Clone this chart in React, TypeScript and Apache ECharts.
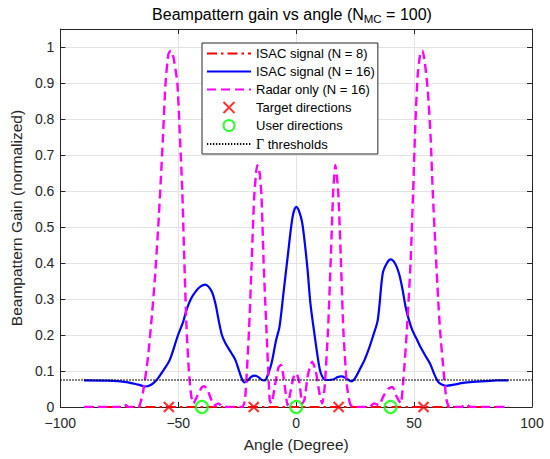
import React, { useEffect, useRef } from "react";
import * as echarts from "echarts";

// ---------- data ----------
const X_RANGE = [-100, 100];
const Y_RANGE = [0, 1.05];

// ISAC signal (N = 8): flat at zero across the scan
const ISAC8: number[][] = [
  [-90, 0], [-60, 0], [-30, 0], [0, 0], [30, 0], [60, 0], [90, 0],
];

// ISAC signal (N = 16)
const ISAC16: number[][] = [
  [-90, 0.074], [-80, 0.073], [-72, 0.069], [-67, 0.062], [-64, 0.057], [-61.5, 0.062],
  [-59.2, 0.075], [-56.5, 0.1], [-53.6, 0.131], [-50.1, 0.2], [-48, 0.235], [-46.5, 0.27],
  [-44.5, 0.302], [-42.5, 0.322], [-40.5, 0.335], [-38.6, 0.34], [-37, 0.333], [-35.5, 0.316],
  [-34, 0.28], [-33, 0.245], [-31.5, 0.2], [-30, 0.177], [-27.5, 0.15], [-25.8, 0.131],
  [-24.2, 0.1], [-23, 0.078], [-22, 0.068], [-20.5, 0.074], [-19, 0.084], [-17.5, 0.087],
  [-16, 0.083], [-14.5, 0.075], [-13.3, 0.074], [-12, 0.09], [-10.5, 0.12], [-8.5, 0.186],
  [-7.1, 0.222], [-5.5, 0.31], [-3.6, 0.418], [-1.5, 0.529], [0, 0.556], [1, 0.548],
  [2.6, 0.51], [4.7, 0.39], [6, 0.29], [7.5, 0.214], [8.9, 0.149], [10, 0.105], [11, 0.085],
  [12, 0.077], [13.75, 0.075], [16, 0.077], [17.5, 0.083], [19.3, 0.085], [21, 0.08],
  [23.5, 0.071], [25, 0.08], [27, 0.105], [29, 0.131], [31, 0.165], [32.5, 0.195],
  [34.6, 0.242], [36.7, 0.371], [38.5, 0.4], [40.1, 0.41], [42, 0.398], [43.6, 0.371],
  [45, 0.33], [46.5, 0.275], [47.8, 0.242], [49.2, 0.214], [51, 0.19], [52.6, 0.168],
  [55, 0.14], [56.8, 0.12], [58.5, 0.092], [60.3, 0.069], [62, 0.062], [63.75, 0.059],
  [67, 0.062], [70.7, 0.067], [75, 0.07], [80.4, 0.072], [85, 0.074], [90, 0.074],
];

// Radar only (N = 16)
const RADAR16: number[][] = [
  [-90, 0], [-75, 0], [-73, 0.008], [-71, 0], [-67, 0], [-65, 0.04], [-63, 0.13],
  [-61.5, 0.23], [-60, 0.35], [-58.5, 0.5], [-57.5, 0.62], [-56.5, 0.75], [-55.4, 0.9],
  [-54.2, 0.98], [-53.2, 0.99], [-52, 0.97], [-50.4, 0.9], [-49.5, 0.78], [-48.3, 0.6],
  [-47.5, 0.42], [-46.5, 0.22], [-45.5, 0.1], [-44.5, 0.03], [-43.6, 0.01], [-42, 0.03],
  [-40, 0.055], [-39, 0.058], [-37.5, 0.045], [-36, 0.02], [-35, 0.003], [-33, 0.01],
  [-31, 0], [-23, 0], [-21.7, 0.02], [-20, 0.214], [-19, 0.38], [-17.8, 0.584],
  [-16.5, 0.672], [-15.5, 0.65], [-14.7, 0.584], [-13.8, 0.4], [-12.6, 0.214],
  [-11.25, 0.02], [-10.5, 0.01], [-9, 0.06], [-7.5, 0.11], [-6.4, 0.117], [-5.3, 0.08],
  [-4.3, 0.03], [-3.7, 0.005], [-2.5, 0.04], [-1, 0.085], [0, 0.094], [1.3, 0.07],
  [2.6, 0.01], [3.5, 0.02], [5, 0.09], [6.8, 0.126], [8.3, 0.1], [9.8, 0.04], [11, 0.01],
  [12, 0.05], [13.5, 0.214], [14.7, 0.418], [15.7, 0.6], [16.6, 0.672], [17.8, 0.6],
  [18.9, 0.418], [20, 0.214], [21.5, 0.06], [22.8, 0.01], [24, 0], [31, 0], [33, 0.01],
  [35, 0.005], [37, 0.03], [39, 0.05], [40.8, 0.056], [42.5, 0.03], [44.3, 0.01],
  [45.5, 0.08], [47, 0.22], [48.5, 0.4], [49.6, 0.6], [50.5, 0.78], [51.5, 0.92],
  [52.7, 0.985], [53.5, 0.99], [54.5, 0.96], [55.8, 0.88], [57, 0.75], [57.9, 0.6],
  [59, 0.45], [60.2, 0.3], [61, 0.214], [62.5, 0.1], [63.75, 0.02], [65, 0], [70, 0],
  [72, 0.008], [74, 0], [90, 0],
];

const TARGET_ANGLES = [-54, -18, 18, 54];
const USER_ANGLES = [-40, 0, 40];
const THRESHOLD = 0.075;

const NAMES = [
  "ISAC signal (N = 8)",
  "ISAC signal (N = 16)",
  "Radar only (N = 16)",
  "Target directions",
  "User directions",
  "Γ thresholds",
];

const FONT = "'Liberation Sans', Arial, Helvetica, sans-serif";
const TXT = "#262626";
const GRID = "#e3e3e3";

const minusFmt = (v: number) => String(v).replace("-", "\u2212");

function buildOption(): echarts.EChartsCoreOption {
  const axisCommon = {
    axisLine: { show: true, onZero: false, lineStyle: { color: TXT, width: 1 } },
    axisTick: { show: true, inside: true, length: 5, lineStyle: { color: TXT, width: 1 } },
  };
  // hide the default symbol that ECharts puts in the middle of a line legend icon
  const hiddenSymbol = { opacity: 0 };
  return {
    animation: false,
    backgroundColor: "#ffffff",
    grid: { left: 53, right: 18, top: 29, bottom: 52 },
    graphic: [
      {
        type: "text",
        x: 292,
        y: 14,
        style: {
          text: "Beampattern gain vs angle (N{sub|MC} = 100)",
          fontFamily: FONT,
          fontSize: 16,
          fill: "#000",
          align: "center",
          verticalAlign: "middle",
          rich: {
            sub: { fontFamily: FONT, fontSize: 11.5, fill: "#000", padding: [9, 0, 0, 0] },
          },
        },
      },
    ],
    xAxis: [
      {
        type: "value",
        position: "bottom",
        min: X_RANGE[0],
        max: X_RANGE[1],
        interval: 50,
        name: "Angle (Degree)",
        nameLocation: "middle",
        nameGap: 29,
        nameTextStyle: { fontFamily: FONT, fontSize: 15.5, color: TXT },
        ...axisCommon,
        axisLabel: {
          fontFamily: FONT,
          fontSize: 14,
          lineHeight: 14,
          color: TXT,
          margin: 9,
          formatter: minusFmt,
        },
        splitLine: { show: true, lineStyle: { color: GRID, width: 1 } },
      },
      {
        type: "value",
        position: "top",
        min: X_RANGE[0],
        max: X_RANGE[1],
        interval: 50,
        ...axisCommon,
        axisLabel: { show: false },
        splitLine: { show: false },
      },
    ],
    yAxis: [
      {
        type: "value",
        position: "left",
        min: Y_RANGE[0],
        max: Y_RANGE[1],
        interval: 0.1,
        name: "Beampattern Gain (normalized)",
        nameLocation: "middle",
        nameGap: 31,
        nameTextStyle: { fontFamily: FONT, fontSize: 15.5, color: TXT },
        ...axisCommon,
        axisLabel: {
          fontFamily: FONT,
          fontSize: 14,
          lineHeight: 14,
          color: TXT,
          margin: 6,
          showMaxLabel: false,
          formatter: (v: number) => String(Math.round(v * 100) / 100),
        },
        splitLine: { show: true, lineStyle: { color: GRID, width: 1 } },
      },
      {
        type: "value",
        position: "right",
        min: Y_RANGE[0],
        max: Y_RANGE[1],
        interval: 0.1,
        ...axisCommon,
        axisLabel: { show: false },
        splitLine: { show: false },
      },
    ],
    legend: {
      orient: "vertical",
      left: 202,
      top: 43,
      itemWidth: 44,
      itemHeight: 11,
      itemGap: 5,
      padding: [4, 3, 3, 4],
      backgroundColor: "#ffffff",
      borderColor: TXT,
      borderWidth: 1,
      borderRadius: 0,
      textStyle: {
        fontFamily: FONT,
        fontSize: 13,
        color: "#000",
        rich: { g: { fontFamily: "'Liberation Serif', 'DejaVu Serif', serif", fontSize: 14, color: "#000" } },
      },
      formatter: (name: string) => (name === "Γ thresholds" ? "{g|Γ} thresholds" : name),
      data: NAMES,
    },
    series: [
      {
        name: NAMES[0],
        type: "line",
        data: ISAC8,
        symbol: "none",
        lineStyle: { color: "#ff0000", width: 2, type: [10, 4, 2.5, 4] },
        itemStyle: { color: "#ff0000", ...hiddenSymbol },
        z: 2,
      },
      {
        name: NAMES[1],
        type: "line",
        data: ISAC16,
        symbol: "none",
        smooth: 0.3,
        lineStyle: { color: "#0000ff", width: 2.2 },
        itemStyle: { color: "#0000ff", ...hiddenSymbol },
        z: 3,
      },
      {
        name: NAMES[2],
        type: "line",
        data: RADAR16,
        symbol: "none",
        smooth: 0.2,
        lineStyle: { color: "#ff00ff", width: 2.4, type: [9, 5] },
        itemStyle: { color: "#ff00ff", ...hiddenSymbol },
        z: 4,
      },
      {
        name: NAMES[3],
        type: "scatter",
        data: TARGET_ANGLES.map((a) => [a, 0]),
        symbol: "path://M0,0L10,10M10,0L0,10",
        symbolSize: 10,
        symbolKeepAspect: true,
        itemStyle: { color: "#ff0000", borderColor: "#ff0000", borderWidth: 2.2 },
        z: 5,
      },
      {
        name: NAMES[4],
        type: "scatter",
        data: USER_ANGLES.map((a) => [a, 0]),
        symbol: "circle",
        symbolSize: 12,
        itemStyle: { color: "rgba(0,0,0,0)", borderColor: "#00ff00", borderWidth: 2.2 },
        z: 5,
      },
      {
        name: NAMES[5],
        type: "line",
        data: [
          [X_RANGE[0], THRESHOLD],
          [X_RANGE[1], THRESHOLD],
        ],
        symbol: "none",
        lineStyle: { color: "#000000", width: 1.3, type: [1.3, 1.7] },
        itemStyle: { color: "#000000", ...hiddenSymbol },
        z: 6,
      },
    ],
  };
}

export default function App() {
  const ref = useRef<HTMLDivElement>(null);
  useEffect(() => {
    if (!ref.current) return;
    const chart = echarts.init(ref.current, null, { renderer: "svg", width: 550, height: 459 });
    chart.setOption(buildOption());
    return () => chart.dispose();
  }, []);
  return (
    <div
      ref={ref}
      style={{ position: "fixed", left: 0, top: 0, width: 550, height: 459, background: "#fff" }}
    />
  );
}
